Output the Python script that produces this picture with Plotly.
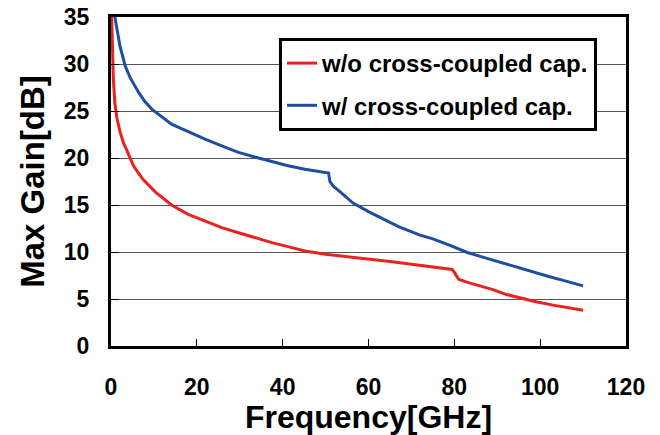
import plotly.graph_objects as go

# Frequency [GHz] and Max Gain [dB]
freq_wo = [0.15, 0.35, 0.55, 0.9, 1.4, 2.1, 2.9, 3.8, 5.2, 6.4, 7.5, 10.3, 14.1, 18, 21.9,
           25.8, 29.7, 33.5, 37.5, 41, 45.2, 50, 55, 60, 65, 70, 75, 79.5, 80.2, 81, 82.9,
           85.2, 89, 92, 95.3, 99, 103, 106.5, 110]
gain_wo = [35, 31, 28.4, 25.8, 24.2, 22.8, 21.6, 20.7, 19.2, 18.4, 17.7, 16.4, 15.0, 14.0, 13.3,
           12.6, 12.05, 11.5, 11.0, 10.6, 10.1, 9.75, 9.5, 9.3, 9.0, 8.7, 8.45, 8.15, 7.7, 7.1, 6.8,
           6.5, 6.0, 5.5, 5.1, 4.7, 4.35, 4.05, 3.8]

freq_w = [0.9, 1.4, 2.1, 3.3, 4.4, 6.4, 7.9, 9.5, 12, 14.1, 18, 21.9, 25.8, 29.7, 33.5, 37.5,
          41, 45.2, 49.5, 50.7, 51.0, 51.8, 53.4, 56.4, 60, 63.4, 67, 72, 75, 79, 83, 87, 90.7,
          95, 98, 102, 106, 110]
gain_w = [35, 33.5, 31.9, 29.8, 28.6, 27.0, 26.0, 25.2, 24.3, 23.6, 22.8, 22.0, 21.3, 20.6, 20.1, 19.6,
          19.2, 18.8, 18.55, 18.4, 17.5, 17.0, 16.4, 15.2, 14.3, 13.5, 12.7, 11.8, 11.4, 10.7, 9.95, 9.4, 8.9,
          8.3, 7.9, 7.4, 6.9, 6.4]

series_names = ["w/o cross-coupled cap.", "w/ cross-coupled cap."]
x_ticks = [0, 20, 40, 60, 80, 100, 120]
y_ticks = [0, 5, 10, 15, 20, 25, 30, 35]

FONT = "Liberation Sans, Arial, sans-serif"

fig = go.Figure()
fig.add_trace(go.Scatter(x=freq_wo, y=gain_wo, mode="lines", name=series_names[0],
                         legendgroup="g0",
                         line=dict(color="#E8221E", width=3)))
fig.add_trace(go.Scatter(x=freq_w, y=gain_w, mode="lines", name=series_names[1],
                         legendgroup="g1",
                         line=dict(color="#1E4DA1", width=3)))

# the page adds an 8px body margin, so the figure is sized/placed to compensate
PLOT_H = 427 - 9 - 89
fig.update_layout(
    width=652, height=427,
    margin=dict(l=103, r=34, t=9, b=89),
    paper_bgcolor="white", plot_bgcolor="white",
    font=dict(family=FONT, size=23, color="black", weight="bold"),
    showlegend=True,
    legend=dict(
        x=(279 - 111) / 515, y=(346 - 38) / PLOT_H, xanchor="left", yanchor="top",
        bgcolor="white", bordercolor="black", borderwidth=3,
        font=dict(family=FONT, size=24, color="black", weight="bold"),
        itemwidth=30, tracegroupgap=8,
    ),
    xaxis=dict(
        range=[0, 120], tickvals=x_ticks, ticktext=[str(v) for v in x_ticks],
        ticks="inside", ticklen=7, tickwidth=1, tickcolor="black",
        showline=True, linecolor="black", linewidth=3, mirror=True,
        showgrid=False, zeroline=False, ticklabelstandoff=18, automargin=False,
        ticklabeloverflow="allow",
        title=dict(text="Frequency[GHz]", font=dict(family=FONT, size=32, weight="bold"), standoff=0),
    ),
    yaxis=dict(
        range=[0, 35], tickvals=y_ticks, ticktext=[str(v) for v in y_ticks],
        ticks="inside", ticklen=8, tickwidth=1, tickcolor="black",
        showline=True, linecolor="black", linewidth=3, mirror=True,
        showgrid=True, gridcolor="#555555", gridwidth=1, zeroline=False,
        ticklabelstandoff=14, automargin=False, ticklabeloverflow="allow",
        title=dict(text="Max Gain[dB]", font=dict(family=FONT, size=33, weight="bold"), standoff=10),
    ),
)

fig.write_html("out.html")
